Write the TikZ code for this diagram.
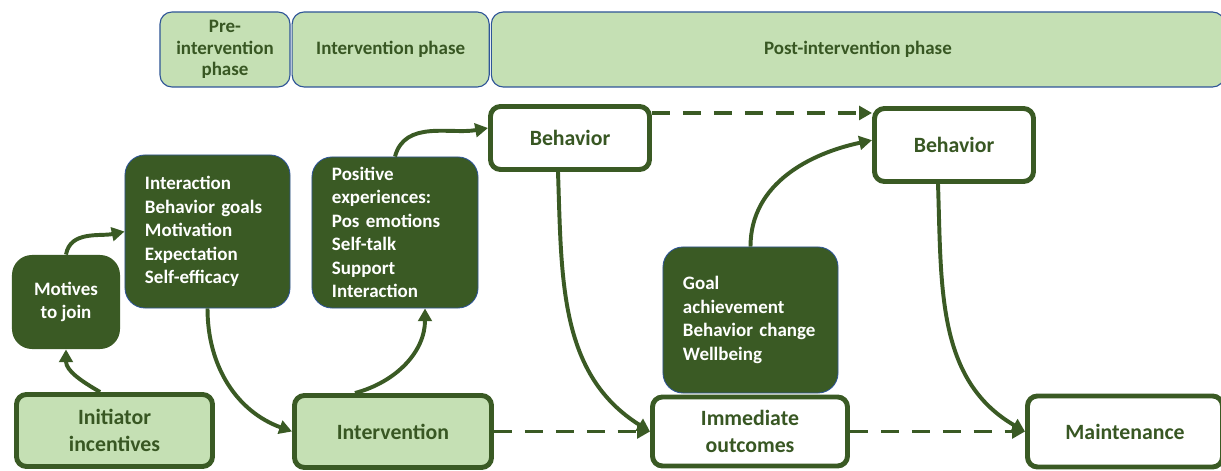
\documentclass[tikz,border=0pt]{standalone}
\usepackage{fontspec}
\setmainfont{Carlito}
\usetikzlibrary{positioning,arrows.meta}
\definecolor{leafdark}{HTML}{3A5A24}
\definecolor{leaflight}{HTML}{C5E0B4}
\definecolor{leafink}{HTML}{385723}
\definecolor{edgeblue}{HTML}{2F5597}

\begin{document}
\begin{tikzpicture}[x=0.025cm,y=0.025cm,
  phase/.style={draw=edgeblue,line width=0.8pt,fill=leaflight,rounded corners=3mm,minimum height=1.875cm,inner sep=0pt,text=leafink,align=center,font=\bfseries\fontsize{13.5}{15.2}\selectfont},
  dark/.style={draw=edgeblue,line width=0.6pt,fill=leafdark,rounded corners=5mm,inner xsep=5mm,text=white,align=left,font=\bfseries\fontsize{13.5}{16.7}\selectfont},
  stage/.style={draw=leafdark,line width=3.5pt,fill=white,rounded corners=2.5mm,text=leafink,align=center,font=\bfseries\fontsize{15.5}{19.5}\selectfont},
  entry/.style={stage,fill=leaflight},
  arr/.style={-{Triangle[length=3.2mm,width=3.4mm]},draw=leafdark,line width=2.8pt},
  lag/.style={arr,dash pattern=on 13pt off 9pt}
]
\useasboundingbox (0,0) rectangle (1221,471);

% phase header
\node[phase,minimum width=3.25cm] (pre) at (225,421.5) {Pre-\\intervention\\phase};
\node[phase,minimum width=4.925cm,right=0.025cm of pre] (inter) {Intervention phase};
\node[phase,minimum width=18.325cm,right=0.025cm of inter] (post) {Post-intervention phase};

% stages
\node[entry,minimum width=4.9cm,minimum height=1.8cm] (initiator) at (114.5,40.5) {Initiator\\incentives};
\node[entry,minimum width=4.925cm,minimum height=1.8cm] (intervention) at (393,39.5) {Intervention};
\node[stage,minimum width=4.875cm,minimum height=1.725cm] (immediate) at (750,39.5) {Immediate\\outcomes};
\node[stage,minimum width=4.875cm,minimum height=1.775cm] (maintenance) at (1125,39.5) {Maintenance};
\node[stage,minimum width=3.975cm,minimum height=1.575cm] (behnow) at (570,333) {Behavior};
\node[stage,minimum width=3.975cm,minimum height=1.825cm] (behlater) at (954,326) {Behavior};

% determinants
\node[dark,draw=none,align=center,inner xsep=0pt,minimum width=2.7cm,minimum height=2.35cm] (motives) at (66,169) {Motives\\to join};
\node[dark,text width=3.125cm,minimum width=4.125cm,minimum height=3.825cm] (factors) at (207.5,239.5)
  {Interaction\\Behavior goals\\Motivation\\Expectation\\Self-efficacy};
\node[dark,text width=3.15cm,minimum width=4.15cm,minimum height=3.775cm] (positive) at (395,238.5)
  {Positive\\experiences:\\Pos emotions\\Self-talk\\Support\\Interaction};
\node[dark,text width=3.375cm,minimum width=4.375cm,minimum height=3.65cm] (goal) at (750.5,151)
  {Goal\\achievement\\Behavior change\\Wellbeing};

\draw[arr] ([xshift=-0.36cm]initiator.north) to[out=150,in=-90] (motives.south);
\draw[arr] (motives.north) to[out=80,in=192] (factors.west);
\draw[arr] (factors.south) to[out=-90,in=160] (intervention.west);
\draw[arr] ([xshift=-0.95cm]intervention.north) to[out=15,in=-90] ([xshift=0.75cm]positive.south);
\draw[arr] (positive.north) to[out=75,in=190] ([yshift=0.25cm]behnow.west);
\draw[arr] ([xshift=-0.3cm]behnow.south) to[out=-88,in=148] (immediate.west);
\draw[arr] (goal.north) to[out=90,in=192] ([yshift=0.12cm]behlater.west);
\draw[arr] ([xshift=-0.4cm]behlater.south) to[out=-88,in=150] (maintenance.west);

\coordinate (bout) at ([yshift=0.625cm]behnow.east);
\draw[lag] (bout) -- (bout -| behlater.west);
\draw[lag] (intervention.east) -- (immediate.west);
\draw[lag] (immediate.east) -- (maintenance.west);
\end{tikzpicture}
\end{document}
